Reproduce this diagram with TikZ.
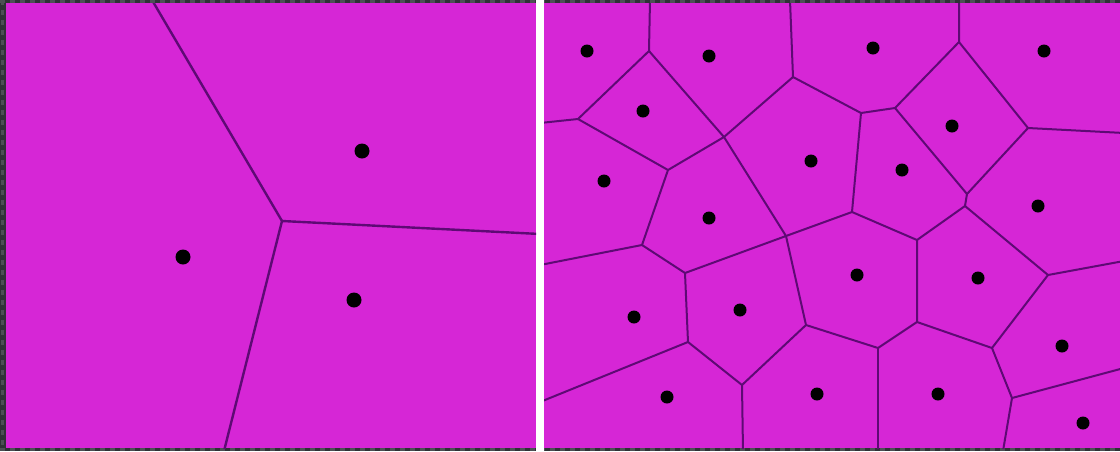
\documentclass[tikz,border=0pt]{standalone}
\definecolor{frame}{HTML}{2E3235}
\definecolor{framelight}{HTML}{4C5054}
\definecolor{cellfill}{HTML}{D626D6}
\definecolor{edgecol}{HTML}{5E0A74}
\tikzset{
  edge/.style={draw=edgecol,line width=2pt,line cap=round,line join=round},
  bigedge/.style={draw=edgecol,line width=2.4pt,line cap=round},
  site/.style={fill=black},
  framedash/.style={framelight,line width=2.5pt,dash pattern=on 5pt off 5pt},
}
\begin{document}
\begin{tikzpicture}[x=1pt,y=-1pt]
\useasboundingbox (0,0) rectangle (1120,451);
\fill[frame] (0,0) rectangle (1120,451);
\draw[framedash] (0,1.3) -- (1120,1.3);
\draw[framedash] (0,449.7) -- (1120,449.7);
\draw[framedash] (2.5,0) -- (2.5,451);
% panels
\fill[cellfill] (6,3) rectangle (536,448);
\fill[white] (536,0) rectangle (544,451);
\fill[cellfill] (544,3) rectangle (1120,448);

% ---------- left panel ----------
\begin{scope}
\clip (6,3) rectangle (536,448);
\coordinate (lv) at (282,221);
\coordinate (lt) at (152,0);
\coordinate (lr) at (540,234);
\coordinate (lb) at (224,451);
\draw[bigedge] (lt) -- (lv);
\draw[bigedge] (lv) -- (lr);
\draw[bigedge] (lv) -- (lb);
\end{scope}
\fill[site] (362,151) circle (7.5);
\fill[site] (183,257) circle (7.5);
\fill[site] (354,300) circle (7.5);

% ---------- right panel ----------
\begin{scope}
\clip (544,3) rectangle (1120,448);
\coordinate (A) at (649,51);
\coordinate (B) at (578,119);
\coordinate (C) at (724,137);
\coordinate (D) at (793,77);
\coordinate (E) at (861,113);
\coordinate (F) at (895,108);
\coordinate (G) at (959,42);
\coordinate (H) at (1028,128);
\coordinate (I) at (967,194);
\coordinate (J) at (965,206);
\coordinate (K) at (852,212);
\coordinate (L) at (917,240);
\coordinate (M) at (1048,275);
\coordinate (N) at (917,322);
\coordinate (O) at (878,348);
\coordinate (P) at (992,348);
\coordinate (Q) at (1012,398);
\coordinate (R) at (685,273);
\coordinate (S) at (688,342);
\coordinate (T) at (742,385);
\coordinate (U) at (806,325);
\coordinate (V) at (668,170);
\coordinate (W) at (642,245);
\coordinate (X) at (786,236);
% border ends
\coordinate (tA) at (650,0);
\coordinate (tD) at (790,0);
\coordinate (tG) at (959,0);
\coordinate (lB) at (540,123);
\coordinate (lW) at (540,265);
\coordinate (lS) at (540,402);
\coordinate (rH) at (1124,133);
\coordinate (rM) at (1124,261);
\coordinate (rQ) at (1124,368);
\coordinate (bT) at (743,451);
\coordinate (bO) at (878,451);
\coordinate (bQ) at (1003,451);
\draw[edge] (tA) -- (A) -- (B) -- (lB);
\draw[edge] (A) -- (C) -- (D) -- (tD);
\draw[edge] (B) -- (V) -- (C);
\draw[edge] (D) -- (E) -- (F) -- (G) -- (tG);
\draw[edge] (G) -- (H) -- (rH);
\draw[edge] (F) -- (I) -- (H);
\draw[edge] (V) -- (W) -- (lW);
\draw[edge] (W) -- (R) -- (X) -- (C);
\draw[edge] (E) -- (K) -- (X);
\draw[edge] (I) -- (J) -- (L) -- (K);
\draw[edge] (J) -- (M) -- (rM);
\draw[edge] (R) -- (S) -- (lS);
\draw[edge] (X) -- (U) -- (T) -- (S);
\draw[edge] (L) -- (N) -- (O) -- (U);
\draw[edge] (M) -- (P) -- (N);
\draw[edge] (T) -- (bT);
\draw[edge] (O) -- (bO);
\draw[edge] (P) -- (Q) -- (bQ);
\draw[edge] (Q) -- (rQ);
\end{scope}
\foreach \p in {(587,51),(709,56),(643,111),(873,48),(1044,51),(952,126),
  (604,181),(709,218),(811,161),(902,170),(1038,206),(634,317),(740,310),
  (667,397),(817,394),(857,275),(978,278),(1062,346),(938,394),(1083,423)}
  \fill[site] \p circle (6.5);
\end{tikzpicture}
\end{document}
